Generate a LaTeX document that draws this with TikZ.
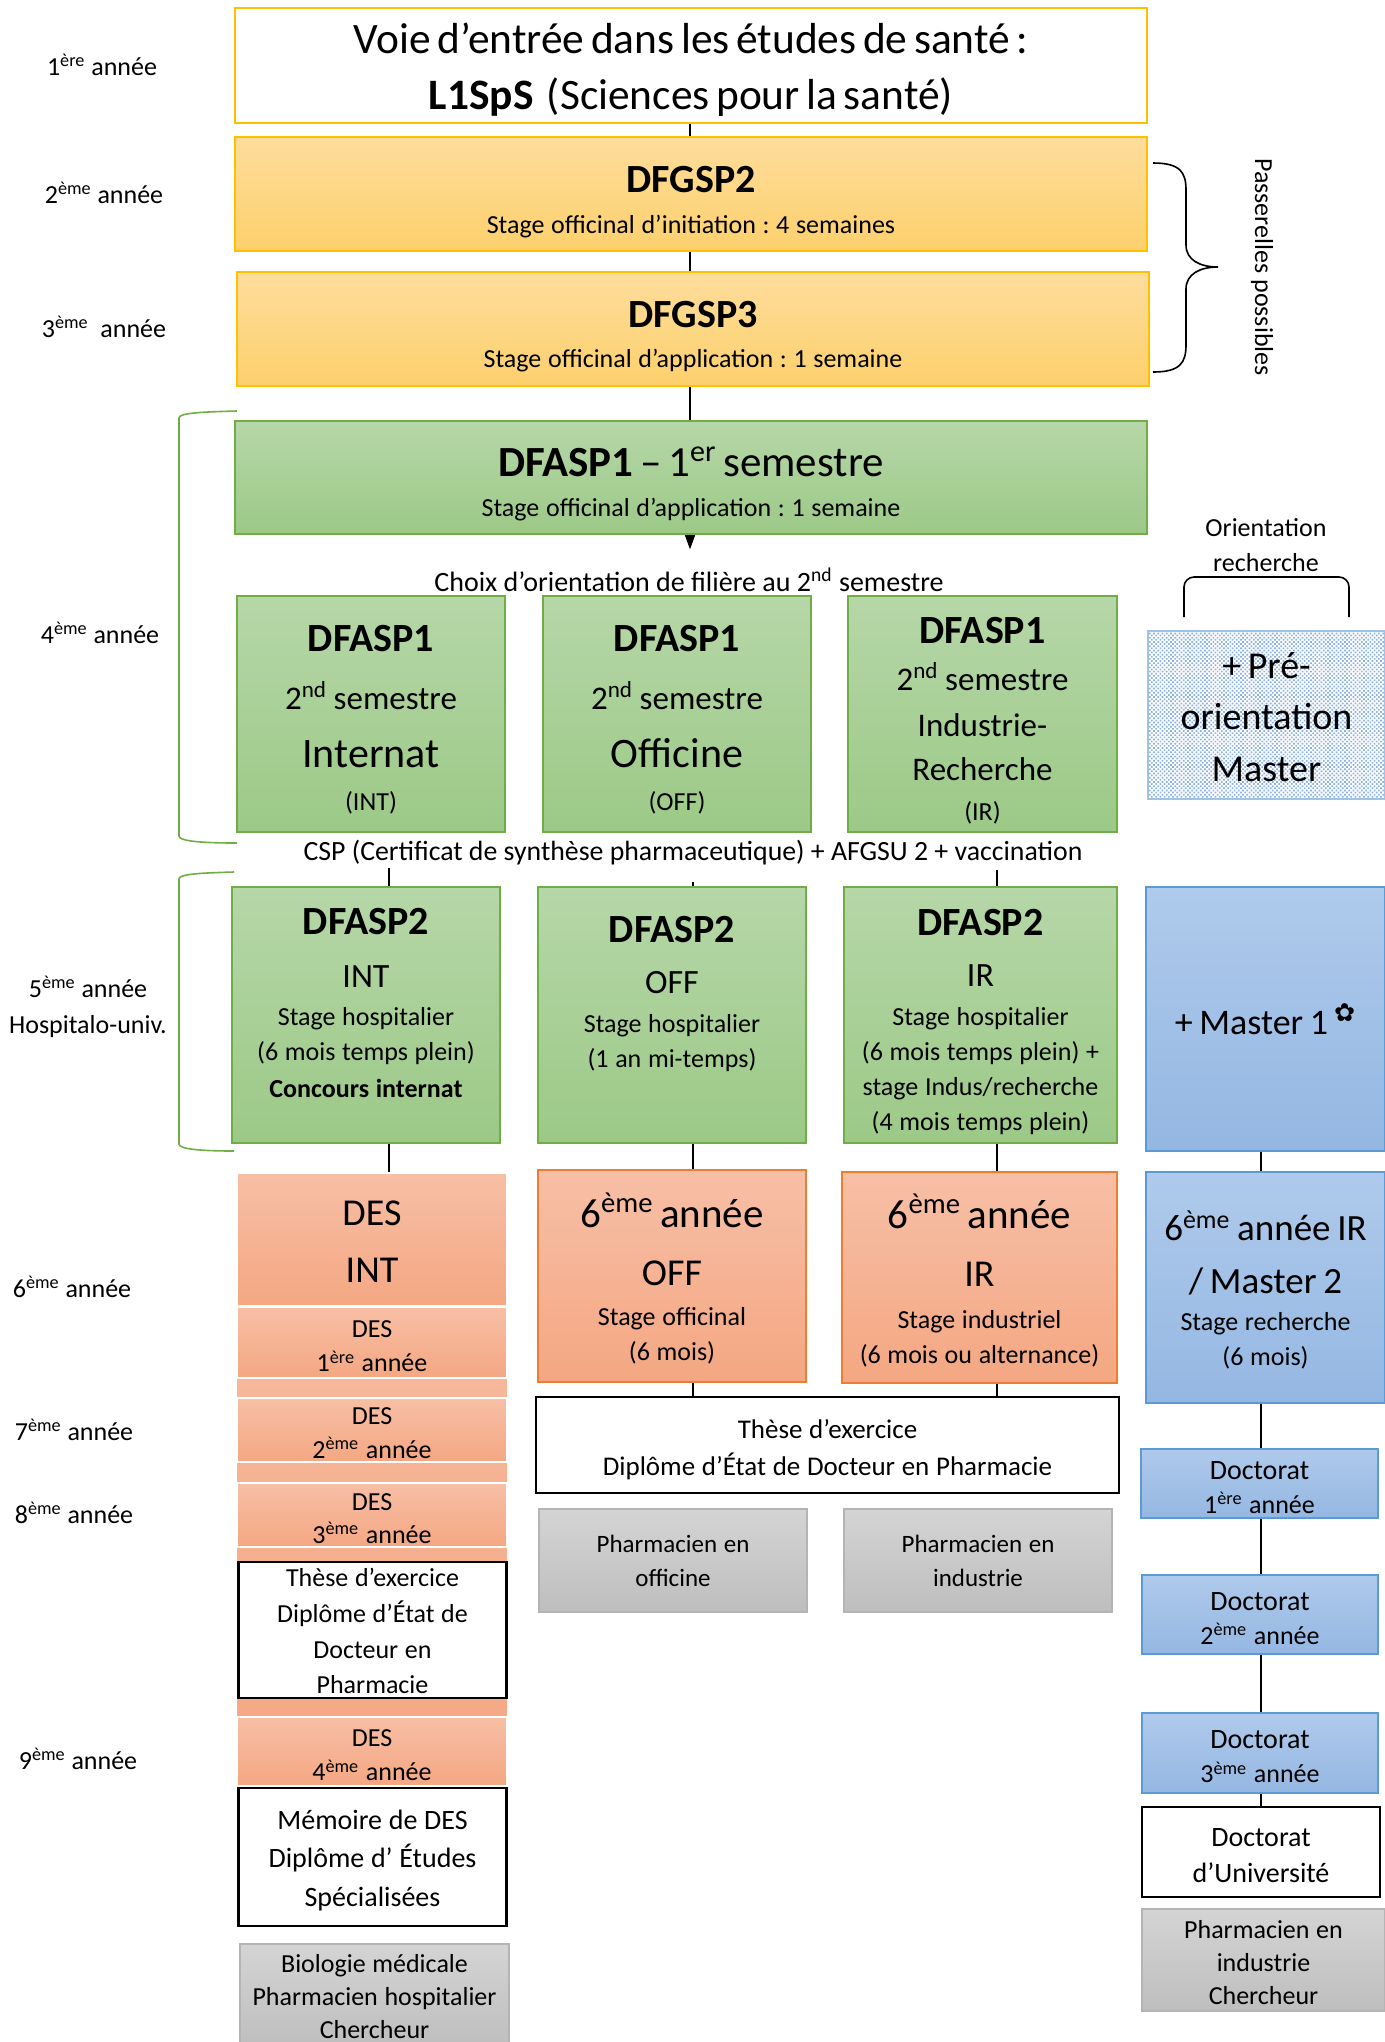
\documentclass[tikz,border=0pt]{standalone}
\usepackage{fontspec}
\setmainfont{Carlito}
\newfontfamily\symbole{DejaVu Sans}
\usetikzlibrary{arrows.meta, positioning, patterns.meta, backgrounds}
\setlength{\parindent}{0pt}
\frenchspacing

\definecolor{bordjaune}{HTML}{FFC000}
\definecolor{jauneh}{HTML}{FEDD9C}
\definecolor{jauneb}{HTML}{FDD06C}
\definecolor{bordvert}{HTML}{70AD47}
\definecolor{verth}{HTML}{B6D7A8}
\definecolor{vertb}{HTML}{9CC987}
\definecolor{bordorange}{HTML}{ED7D31}
\definecolor{orangeh}{HTML}{F7BFA6}
\definecolor{orangeb}{HTML}{F4A782}
\definecolor{bordbleu}{HTML}{5B9BD5}
\definecolor{bleuh}{HTML}{AFCAEB}
\definecolor{bleub}{HTML}{94B7E2}
\definecolor{grish}{HTML}{D4D4D4}
\definecolor{grisb}{HTML}{BEBEBE}
\definecolor{bordgris}{HTML}{B4B4B4}
\definecolor{motif}{HTML}{8AB1E2}

\newcommand{\ligne}[3]{{\fontsize{#1}{#2}\selectfont #3\par}}
\newcommand{\decale}[1]{\kern-#1pt\hrule height 0pt}

\tikzstyle{cadre} = [rectangle, inner sep=0pt, align=center]
\tikzstyle{tronc} = [cadre, draw=bordjaune, line width=1pt, top color=jauneh, bottom color=jauneb]
\tikzstyle{filiere} = [cadre, draw=bordvert, line width=0.8pt, top color=verth, bottom color=vertb]
\tikzstyle{stage} = [cadre, draw=bordorange, line width=0.8pt, top color=orangeh, bottom color=orangeb]
\tikzstyle{sousdes} = [cadre, draw=white, line width=0.8pt, top color=orangeh, bottom color=orangeb]
\tikzstyle{recherche} = [cadre, draw=bordbleu, line width=0.8pt, top color=bleuh, bottom color=bleub]
\tikzstyle{metier} = [cadre, draw=bordgris, line width=0.8pt, top color=grish, bottom color=grisb]
\tikzstyle{diplome} = [cadre, draw=black, line width=1.4pt, fill=white]
\tikzstyle{annee} = [inner sep=0pt, align=center, font=\fontsize{13}{18}\selectfont]
\tikzstyle{lien} = [line width=1pt]

\begin{document}
\begin{tikzpicture}[x=0.5pt, y=-0.5pt]
\useasboundingbox (0,0) rectangle (1385,2042);

% colonnes des liens
\coordinate (colmain) at (690,0);
\coordinate (colint) at (389,0);
\coordinate (coloff) at (693,0);
\coordinate (colir) at (997,0);
\coordinate (colbleu) at (1261,0);

% annees
\node (an1) [annee] at (102,65) {1\textsuperscript{ère} année};
\node (an2) [annee] at (104,193) {2\textsuperscript{ème} année};
\node (an3) [annee] at (104,327) {3\textsuperscript{ème}\ \ année};
\node (an4) [annee] at (100,633) {4\textsuperscript{ème} année};
\node (an5) [annee] at (88,1007) {5\textsuperscript{ème} année\\Hospitalo-univ.};
\node (an6) [annee] at (72,1287) {6\textsuperscript{ème} année};
\node (an7) [annee] at (74,1430) {7\textsuperscript{ème} année};
\node (an8) [annee] at (74,1513) {8\textsuperscript{ème} année};
\node (an9) [annee] at (78,1759) {9\textsuperscript{ème} année};

% tronc commun
\node (entree) [cadre, draw=bordjaune, line width=1.2pt, fill=white, minimum width=456pt, minimum height=57.5pt, text width=450pt] at (691,65.5)
  {\ligne{21.7}{28}{Voie d’entrée dans les études de santé :}\ligne{21.7}{28}{\textbf{L1SpS}\ \ (Sciences pour la santé)}\decale{4.5}};
\node (dfgsp2) [tronc, minimum width=456pt, minimum height=57pt, text width=450pt] at (691,194)
  {\ligne{20}{24}{\textbf{DFGSP2}}\ligne{13}{20.5}{Stage officinal d’initiation : 4 semaines}\decale{8.5}};
\node (dfgsp3) [tronc, minimum width=456pt, minimum height=57pt, text width=450pt] at (693,329)
  {\ligne{20}{24}{\textbf{DFGSP3}}\ligne{13}{20}{Stage officinal d’application : 1 semaine}\decale{8}};
\node (dfasp1) [filiere, minimum width=456pt, minimum height=56.5pt, text width=450pt] at (691,477.5)
  {\ligne{21.5}{24}{\textbf{DFASP1} – 1\textsuperscript{er} semestre}\ligne{13}{20}{Stage officinal d’application : 1 semaine}\decale{6}};
\node (choix) [annee, font=\fontsize{14}{18}\selectfont] at (689,580) {Choix d’orientation de filière au 2\textsuperscript{nd} semestre};

% 4eme annee
\node (int4) [filiere, minimum width=134pt, minimum height=118pt, text width=130pt] at (371,714)
  {\ligne{20}{24}{\textbf{DFASP1}}\ligne{16.5}{29}{2\textsuperscript{nd} semestre}\ligne{21}{29}{Internat}\ligne{13}{21.5}{(INT)}\decale{6}};
\node (off4) [filiere, minimum width=134pt, minimum height=118pt, text width=130pt] at (677,714)
  {\ligne{20}{24}{\textbf{DFASP1}}\ligne{16.5}{29}{2\textsuperscript{nd} semestre}\ligne{21}{29}{Officine}\ligne{13}{21.5}{(OFF)}\decale{6}};
\node (ir4) [filiere, minimum width=134.5pt, minimum height=118pt, text width=130pt] at (982.5,714)
  {\ligne{20}{24}{\textbf{DFASP1}}\ligne{16.5}{23.5}{2\textsuperscript{nd} semestre}\ligne{16.5}{23}{Industrie-}\ligne{16.5}{22}{Recherche}\ligne{13}{20}{(IR)}\decale{7}};
\node (orient) [annee, font=\fontsize{13}{17.5}\selectfont] at (1266,545) {Orientation\\recherche};
\node (preorient) [cadre, draw=bordbleu!60, line width=0.8pt, preaction={fill=white}, pattern={Dots[distance=1.5pt, radius=0.6pt, angle=45]}, pattern color=motif, minimum width=118.5pt, minimum height=84pt, text width=114pt] at (1266.5,715)
  {\ligne{19}{24}{+ Pré-}\ligne{19}{25.5}{orientation}\ligne{19}{26}{Master}\decale{2.6}};
\node (csp) [annee, font=\fontsize{13.9}{18}\selectfont] at (693,853) {CSP (Certificat de synthèse pharmaceutique) + AFGSU 2 + vaccination};

% 5eme annee
\node (dfasp2int) [filiere, minimum width=134pt, minimum height=128pt, text width=130pt] at (366,1015)
  {\ligne{20}{24}{\textbf{DFASP2}}\ligne{17}{26.5}{INT}\ligne{13}{19}{Stage hospitalier}\ligne{13}{17.5}{(6 mois temps plein)}\ligne{13}{18.5}{\textbf{Concours internat}}\decale{-12.4}};
\node (dfasp2off) [filiere, minimum width=134pt, minimum height=128pt, text width=130pt] at (672,1015)
  {\ligne{20}{24}{\textbf{DFASP2}}\ligne{17}{25.5}{OFF}\ligne{13}{19.5}{Stage hospitalier}\ligne{13}{17.5}{(1 an mi-temps)}\decale{-21}};
\node (dfasp2ir) [filiere, minimum width=136.5pt, minimum height=128pt, text width=133pt] at (980.5,1015)
  {\ligne{20}{24}{\textbf{DFASP2}}\ligne{17}{25.5}{IR}\ligne{13}{19.5}{Stage hospitalier}\ligne{13}{17.5}{(6 mois temps plein) +}\ligne{13}{17.5}{stage Indus/recherche}\ligne{13}{17.5}{(4 mois temps plein)}\decale{7}};
\node (master1) [recherche, minimum width=119.5pt, minimum height=132pt, text width=115pt] at (1265.5,1019)
  {\ligne{18}{22}{+ Master 1\,\textsuperscript{\symbole ✿}}};

% colonne DES
\node (desfond) [cadre, top color=orangeh, bottom color=orangeb, minimum width=135pt, minimum height=307.5pt] at (372,1480.5) {};
\node (desint) [sousdes, minimum width=135pt, minimum height=66.5pt, text width=131pt] at (372,1239.5)
  {\ligne{19}{24}{DES}\ligne{19}{28.5}{INT}\decale{2.6}};
\node (des1) [sousdes, minimum width=135pt, minimum height=35.5pt, text width=131pt] at (372,1342.5)
  {\ligne{13}{17}{DES}\ligne{13}{17}{1\textsuperscript{ère} année}\decale{4}};
\node (des2) [sousdes, minimum width=135pt, minimum height=32pt, text width=131pt] at (372,1430)
  {\ligne{13}{17}{DES}\ligne{13}{17}{2\textsuperscript{ème} année}\decale{3.2}};
\node (des3) [sousdes, minimum width=135pt, minimum height=32pt, text width=131pt] at (372,1515)
  {\ligne{13}{17}{DES}\ligne{13}{16.5}{3\textsuperscript{ème} année}\decale{3.2}};
\node (theseint) [diplome, minimum width=134pt, minimum height=68pt, text width=130pt] at (372.5,1630)
  {\ligne{13}{17.8}{Thèse d’exercice}\ligne{13}{17.8}{Diplôme d’État de}\ligne{13}{17.8}{Docteur en}\ligne{13}{17.8}{Pharmacie}\decale{1.3}};
\node (des4) [sousdes, minimum width=135pt, minimum height=34.5pt, text width=131pt] at (372,1751.5)
  {\ligne{13}{17}{DES}\ligne{13}{17}{4\textsuperscript{ème} année}\decale{4}};
\node (memoire) [diplome, minimum width=134pt, minimum height=69pt, text width=130pt] at (372.5,1857)
  {\ligne{14}{19}{Mémoire de DES}\ligne{14}{19}{Diplôme d’ Études}\ligne{14}{19.5}{Spécialisées}\decale{4}};
\node (biologie) [metier, minimum width=134.5pt, minimum height=51pt, text width=131pt] at (374.5,1995)
  {\ligne{13}{16.5}{Biologie médicale}\ligne{13}{16.5}{Pharmacien hospitalier}\ligne{13}{16.5}{Chercheur}\decale{2}};

% 6eme annee
\node (off6) [stage, minimum width=134pt, minimum height=106pt, text width=130pt] at (672,1276)
  {\ligne{20.5}{24}{6\textsuperscript{ème} année}\ligne{19}{29}{OFF}\ligne{13}{20}{Stage officinal}\ligne{13}{17.5}{(6 mois)}\decale{2.6}};
\node (ir6) [stage, minimum width=137.5pt, minimum height=105.5pt, text width=133pt] at (979.5,1277.5)
  {\ligne{20.5}{24}{6\textsuperscript{ème} année}\ligne{19}{29}{IR}\ligne{13}{21}{Stage industriel}\ligne{13}{17.5}{(6 mois ou alternance)}\decale{3.3}};
\node (bleu6) [recherche, minimum width=119.5pt, minimum height=115.5pt, text width=115pt] at (1265.5,1287.5)
  {\ligne{18.5}{22}{6\textsuperscript{ème} année IR}\ligne{18.5}{26.5}{/ Master 2}\ligne{13}{18.5}{Stage recherche}\ligne{13}{17.5}{(6 mois)}\decale{2.6}};
\node (these) [diplome, minimum width=291.5pt, minimum height=48pt, text width=287pt] at (827.5,1445)
  {\ligne{13.5}{18}{Thèse d’exercice}\ligne{13.5}{18.5}{Diplôme d’État de Docteur en Pharmacie}\decale{4.5}};
\node (pharmoff) [metier, minimum width=134pt, minimum height=51.5pt, text width=130pt] at (673,1560.5)
  {\ligne{12.5}{17}{Pharmacien en}\ligne{12.5}{17}{officine}};
\node (pharmind) [metier, minimum width=134pt, minimum height=51.5pt, text width=130pt] at (978,1560.5)
  {\ligne{12.5}{17}{Pharmacien en}\ligne{12.5}{17}{industrie}};

% doctorat
\node (doct1) [recherche, minimum width=118.5pt, minimum height=34.5pt, text width=114pt] at (1259.5,1483.5)
  {\ligne{14}{17}{Doctorat}\ligne{13}{17}{1\textsuperscript{ère} année}\decale{4}};
\node (doct2) [recherche, minimum width=118pt, minimum height=39.5pt, text width=114pt] at (1260,1614.5)
  {\ligne{14}{17}{Doctorat}\ligne{13}{17}{2\textsuperscript{ème} année}\decale{4}};
\node (doct3) [recherche, minimum width=118pt, minimum height=40pt, text width=114pt] at (1260,1753)
  {\ligne{14}{17}{Doctorat}\ligne{13}{17}{3\textsuperscript{ème} année}\decale{4}};
\node (doctu) [diplome, minimum width=119pt, minimum height=45pt, text width=115pt] at (1261,1852)
  {\ligne{14}{18}{Doctorat}\ligne{14}{18}{d’Université}\decale{4}};
\node (chercheur) [metier, minimum width=121.5pt, minimum height=51pt, text width=117pt] at (1263.5,1960)
  {\ligne{13}{16.5}{Pharmacien en}\ligne{13}{16.5}{industrie}\ligne{13}{16.5}{Chercheur}\decale{2.6}};

% accolades
\draw[line width=0.8pt] (1153,163) .. controls (1180,163) and (1186,172) .. (1186,190) -- (1186,245)
  .. controls (1186,260) and (1200,267) .. (1218,267) .. controls (1200,267) and (1186,274) .. (1186,289)
  -- (1186,345) .. controls (1186,363) and (1180,372) .. (1153,372);
\node (passerelles) [annee, rotate=-90] at (1262,267) {Passerelles possibles};
\draw[bordvert, line width=0.8pt] (237,411) .. controls (200,412) and (179,413) .. (179,418) -- (179,836)
  .. controls (179,841) and (200,843) .. (237,843);
\draw[bordvert, line width=0.8pt] (234,872) .. controls (200,873) and (179,874) .. (179,879) -- (179,1144)
  .. controls (179,1149) and (200,1151) .. (234,1151);
\draw[line width=0.8pt, rounded corners=5pt] (1184,617) -- (1184,577) -- (1349,577) -- (1349,617);

% liens
\begin{scope}[on background layer]
\draw[lien] (colmain |- entree.south) -- (colmain |- dfgsp2.north);
\draw[lien] (colmain |- dfgsp2.south) -- (colmain |- dfgsp3.north);
\draw[lien, -{Triangle[width=5.5pt, length=8pt]}, shorten >=9pt] (colmain |- dfgsp3.south) -- (colmain |- choix.north);
\draw[lien, shorten <=1pt] (colint |- csp.south) -- (colint |- dfasp2int.north);
\draw[lien, shorten <=8pt] (coloff |- csp.south) -- (coloff |- dfasp2off.north);
\draw[lien, shorten <=2pt] (colir |- csp.south) -- (colir |- dfasp2ir.north);
\draw[lien] (colint |- dfasp2int.south) -- (colint |- desint.north);
\draw[lien] (coloff |- dfasp2off.south) -- (coloff |- off6.north);
\draw[lien] (colir |- dfasp2ir.south) -- (colir |- ir6.north);
\draw[lien] (colbleu |- master1.south) -- (colbleu |- bleu6.north);
\draw[lien] (coloff |- off6.south) -- (coloff |- these.north);
\draw[lien] (colir |- ir6.south) -- (colir |- these.north);
\draw[lien] (colbleu |- bleu6.south) -- (colbleu |- doct1.north);
\draw[lien] (colbleu |- doct1.south) -- (colbleu |- doct2.north);
\draw[lien] (colbleu |- doct2.south) -- (colbleu |- doct3.north);
\draw[lien] (colbleu |- doct3.south) -- (colbleu |- doctu.north);
\end{scope}

\end{tikzpicture}
\end{document}
